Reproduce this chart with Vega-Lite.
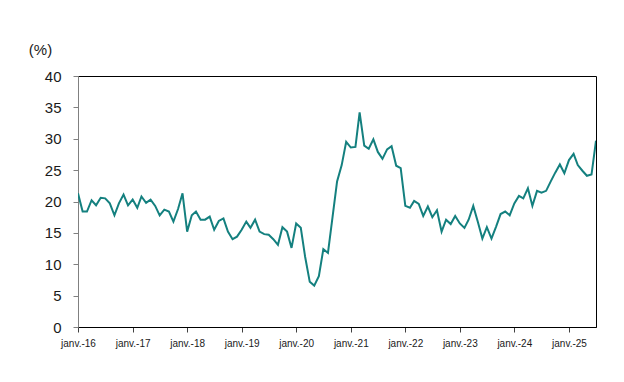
{
  "$schema": "https://vega.github.io/schema/vega-lite/v6.json",
  "autosize": {"type": "none"},
  "width": 518,
  "height": 251,
  "padding": {"left": 78, "top": 76, "right": 28, "bottom": 55},
  "background": "white",
  "config": {
    "view": {"stroke": "#000000", "strokeWidth": 1},
    "font": "Liberation Sans"
  },
  "data": {
    "values": [
      {"date": "2016-01-01", "v": 21.3}, {"date": "2016-02-01", "v": 18.4}, {"date": "2016-03-01", "v": 18.4}, {"date": "2016-04-01", "v": 20.2}, {"date": "2016-05-01", "v": 19.4}, {"date": "2016-06-01", "v": 20.6}, {"date": "2016-07-01", "v": 20.5}, {"date": "2016-08-01", "v": 19.7}, {"date": "2016-09-01", "v": 17.8}, {"date": "2016-10-01", "v": 19.7}, {"date": "2016-11-01", "v": 21.1}, {"date": "2016-12-01", "v": 19.4},
      {"date": "2017-01-01", "v": 20.3}, {"date": "2017-02-01", "v": 19.0}, {"date": "2017-03-01", "v": 20.8}, {"date": "2017-04-01", "v": 19.8}, {"date": "2017-05-01", "v": 20.3}, {"date": "2017-06-01", "v": 19.3}, {"date": "2017-07-01", "v": 17.8}, {"date": "2017-08-01", "v": 18.7}, {"date": "2017-09-01", "v": 18.4}, {"date": "2017-10-01", "v": 16.8}, {"date": "2017-11-01", "v": 18.8}, {"date": "2017-12-01", "v": 21.3},
      {"date": "2018-01-01", "v": 15.2}, {"date": "2018-02-01", "v": 17.8}, {"date": "2018-03-01", "v": 18.4}, {"date": "2018-04-01", "v": 17.1}, {"date": "2018-05-01", "v": 17.1}, {"date": "2018-06-01", "v": 17.6}, {"date": "2018-07-01", "v": 15.5}, {"date": "2018-08-01", "v": 16.9}, {"date": "2018-09-01", "v": 17.3}, {"date": "2018-10-01", "v": 15.2}, {"date": "2018-11-01", "v": 14.0}, {"date": "2018-12-01", "v": 14.4},
      {"date": "2019-01-01", "v": 15.5}, {"date": "2019-02-01", "v": 16.8}, {"date": "2019-03-01", "v": 15.8}, {"date": "2019-04-01", "v": 17.1}, {"date": "2019-05-01", "v": 15.2}, {"date": "2019-06-01", "v": 14.8}, {"date": "2019-07-01", "v": 14.7}, {"date": "2019-08-01", "v": 14.0}, {"date": "2019-09-01", "v": 13.1}, {"date": "2019-10-01", "v": 15.9}, {"date": "2019-11-01", "v": 15.2}, {"date": "2019-12-01", "v": 12.6},
      {"date": "2020-01-01", "v": 16.5}, {"date": "2020-02-01", "v": 15.8}, {"date": "2020-03-01", "v": 11.2}, {"date": "2020-04-01", "v": 7.2}, {"date": "2020-05-01", "v": 6.6}, {"date": "2020-06-01", "v": 8.1}, {"date": "2020-07-01", "v": 12.4}, {"date": "2020-08-01", "v": 11.8}, {"date": "2020-09-01", "v": 17.6}, {"date": "2020-10-01", "v": 23.2}, {"date": "2020-11-01", "v": 25.8}, {"date": "2020-12-01", "v": 29.5},
      {"date": "2021-01-01", "v": 28.6}, {"date": "2021-02-01", "v": 28.7}, {"date": "2021-03-01", "v": 34.2}, {"date": "2021-04-01", "v": 28.9}, {"date": "2021-05-01", "v": 28.4}, {"date": "2021-06-01", "v": 29.9}, {"date": "2021-07-01", "v": 27.9}, {"date": "2021-08-01", "v": 26.8}, {"date": "2021-09-01", "v": 28.3}, {"date": "2021-10-01", "v": 28.8}, {"date": "2021-11-01", "v": 25.7}, {"date": "2021-12-01", "v": 25.3},
      {"date": "2022-01-01", "v": 19.3}, {"date": "2022-02-01", "v": 19.0}, {"date": "2022-03-01", "v": 20.1}, {"date": "2022-04-01", "v": 19.6}, {"date": "2022-05-01", "v": 17.7}, {"date": "2022-06-01", "v": 19.2}, {"date": "2022-07-01", "v": 17.5}, {"date": "2022-08-01", "v": 18.6}, {"date": "2022-09-01", "v": 15.2}, {"date": "2022-10-01", "v": 17.1}, {"date": "2022-11-01", "v": 16.4}, {"date": "2022-12-01", "v": 17.7},
      {"date": "2023-01-01", "v": 16.5}, {"date": "2023-02-01", "v": 15.8}, {"date": "2023-03-01", "v": 17.1}, {"date": "2023-04-01", "v": 19.3}, {"date": "2023-05-01", "v": 16.8}, {"date": "2023-06-01", "v": 14.1}, {"date": "2023-07-01", "v": 15.9}, {"date": "2023-08-01", "v": 14.1}, {"date": "2023-09-01", "v": 16.0}, {"date": "2023-10-01", "v": 18.0}, {"date": "2023-11-01", "v": 18.4}, {"date": "2023-12-01", "v": 17.8},
      {"date": "2024-01-01", "v": 19.7}, {"date": "2024-02-01", "v": 20.9}, {"date": "2024-03-01", "v": 20.5}, {"date": "2024-04-01", "v": 22.1}, {"date": "2024-05-01", "v": 19.3}, {"date": "2024-06-01", "v": 21.7}, {"date": "2024-07-01", "v": 21.4}, {"date": "2024-08-01", "v": 21.7}, {"date": "2024-09-01", "v": 23.2}, {"date": "2024-10-01", "v": 24.6}, {"date": "2024-11-01", "v": 25.9}, {"date": "2024-12-01", "v": 24.5},
      {"date": "2025-01-01", "v": 26.6}, {"date": "2025-02-01", "v": 27.6}, {"date": "2025-03-01", "v": 25.8}, {"date": "2025-04-01", "v": 24.9}, {"date": "2025-05-01", "v": 24.1}, {"date": "2025-06-01", "v": 24.3}, {"date": "2025-07-01", "v": 29.7}
    ]
  },
  "mark": {"type": "line", "color": "#14807F", "strokeWidth": 2, "clip": true},
  "encoding": {
    "x": {
      "field": "date",
      "type": "temporal",
      "scale": {"type": "utc", "domain": ["2016-01-01", "2025-07-01"], "nice": false},
      "axis": {
        "title": null,
        "grid": false,
        "tickCount": {"interval": "year", "step": 1},
        "labelExpr": "'janv.-' + utcFormat(datum.value, '%y')",
        "labelFont": "Liberation Sans",
        "labelFontSize": 10,
        "labelColor": "#1a1a1a",
        "labelPadding": 6,
        "labelAngle": 0,
        "labelAlign": "center",
        "labelOverlap": false,
        "labelFlush": false,
        "domainColor": "#000000",
        "tickColor": "#404040",
        "tickSize": 5
      }
    },
    "y": {
      "field": "v",
      "type": "quantitative",
      "scale": {"domain": [0, 40], "nice": false},
      "axis": {
        "values": [0, 5, 10, 15, 20, 25, 30, 35, 40],
        "grid": false,
        "title": "(%)",
        "titleAngle": 0,
        "titleAlign": "center",
        "titleBaseline": "alphabetic",
        "titleX": -38,
        "titleY": -22,
        "titleFont": "Liberation Sans",
        "titleFontSize": 15,
        "titleFontWeight": "normal",
        "titleColor": "#1a1a1a",
        "labelFont": "Liberation Sans",
        "labelFontSize": 15,
        "labelColor": "#1a1a1a",
        "labelPadding": 12,
        "domainColor": "#808080",
        "tickColor": "#808080",
        "tickSize": 5
      }
    }
  }
}
